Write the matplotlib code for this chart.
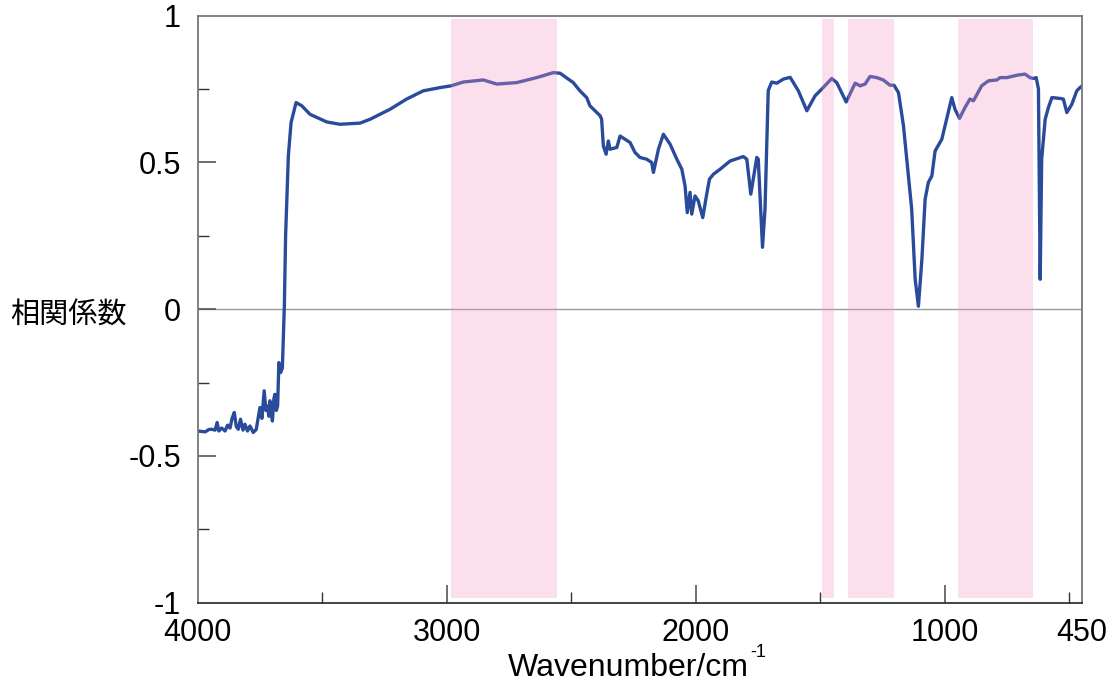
import matplotlib
matplotlib.use("Agg")
import matplotlib.pyplot as plt
from matplotlib.ticker import FixedLocator

# Wavenumber (cm-1) and correlation coefficient
wavenumber = [4000, 3970, 3955, 3944, 3930, 3922, 3915, 3904, 3890, 3880, 3870, 3862,
              3853, 3845, 3837, 3828, 3818, 3810, 3800, 3790, 3777, 3765, 3750, 3742,
              3733, 3726, 3720, 3714, 3710, 3704, 3700, 3694, 3690, 3684, 3679, 3674,
              3667, 3660, 3652, 3647, 3636, 3625, 3605,
              3582, 3549, 3482, 3429, 3348, 3308, 3228, 3161, 3094, 3027, 2983, 2933,
              2853, 2799, 2719, 2639, 2572, 2545, 2492, 2465, 2438, 2425, 2384, 2378,
              2371, 2360, 2351, 2344, 2317, 2304, 2264, 2244, 2224, 2197, 2177, 2170,
              2150, 2130, 2103, 2076, 2056, 2043, 2034, 2023, 2016, 2003, 1990, 1972,
              1956, 1945, 1929, 1902, 1862, 1809, 1795, 1779, 1755, 1749, 1732, 1722,
              1709, 1695, 1675, 1648, 1621, 1588, 1554, 1521, 1494, 1454, 1434, 1396,
              1360, 1340, 1320, 1300, 1273, 1247, 1220, 1204, 1186, 1166, 1146, 1133,
              1119, 1106, 1092, 1079, 1066, 1052, 1039, 1012, 999, 972, 959, 941,
              919, 899, 885, 852, 825, 791, 778, 751, 711, 678, 658, 644,
              633, 624, 617, 611, 597, 584, 570, 537, 524, 510, 490, 470,
              457, 450]
correlation = [-0.415, -0.418, -0.410, -0.409, -0.412, -0.386, -0.415, -0.405, -0.415, -0.395, -0.405, -0.372,
               -0.352, -0.400, -0.409, -0.375, -0.412, -0.392, -0.415, -0.398, -0.420, -0.410, -0.335, -0.372,
               -0.278, -0.345, -0.330, -0.365, -0.312, -0.350, -0.381, -0.305, -0.290, -0.345, -0.329, -0.182,
               -0.216, -0.200, 0.011, 0.250, 0.522, 0.636, 0.704,
               0.693, 0.664, 0.638, 0.630, 0.634, 0.647, 0.681, 0.716, 0.744, 0.755, 0.761, 0.774,
               0.781, 0.767, 0.772, 0.789, 0.806, 0.804, 0.772, 0.744, 0.721, 0.693, 0.659, 0.647,
               0.556, 0.528, 0.573, 0.545, 0.551, 0.590, 0.568, 0.534, 0.517, 0.511, 0.500, 0.466,
               0.545, 0.596, 0.562, 0.511, 0.477, 0.420, 0.329, 0.398, 0.324, 0.386, 0.369, 0.312,
               0.392, 0.443, 0.460, 0.477, 0.505, 0.520, 0.511, 0.392, 0.517, 0.511, 0.211, 0.341,
               0.745, 0.774, 0.770, 0.784, 0.790, 0.744, 0.676, 0.727, 0.750, 0.786, 0.772, 0.706,
               0.770, 0.761, 0.767, 0.793, 0.789, 0.781, 0.763, 0.763, 0.738, 0.625, 0.454, 0.341,
               0.102, 0.010, 0.170, 0.375, 0.432, 0.454, 0.539, 0.579, 0.625, 0.721, 0.681, 0.650,
               0.687, 0.716, 0.710, 0.761, 0.778, 0.781, 0.789, 0.789, 0.797, 0.801, 0.789, 0.786,
               0.789, 0.750, 0.102, 0.511, 0.647, 0.687, 0.721, 0.718, 0.716, 0.670, 0.698, 0.744,
               0.755, 0.760]

# Highlighted wavenumber bands (start, end)
band_starts = [2983, 1494, 1388, 945]
band_ends = [2558, 1446, 1205, 647]

x_ticks = [4000, 3000, 2000, 1000, 450]
x_tick_labels = ["4000", "3000", "2000", "1000", "450"]
x_minor = [3500, 2500, 1500, 500]
y_ticks = [-1, -0.5, 0, 0.5, 1]
y_tick_labels = ["-1", "-0.5", "0", "0.5", "1"]
y_minor = [-0.75, -0.25, 0.25, 0.75]

plt.rcParams['font.family'] = ['Liberation Sans', 'DejaVu Sans']

fig = plt.figure(figsize=(11.15, 6.88), dpi=100)
ax = fig.add_axes([0.1773, 0.124, 0.7929, 0.8532])

ax.axhline(0, color='#9a9a9a', lw=1.0, zorder=1)
ax.plot(wavenumber, correlation, color='#2a4b9b', lw=2.4, zorder=2,
        solid_joinstyle='round')
for s, e in zip(band_starts, band_ends):
    ax.axvspan(s, e, ymin=0.0085, ymax=0.994, color='#f598c6', alpha=0.3,
               lw=0, zorder=3)

ax.set_xlim(4000, 450)
ax.set_ylim(-1, 1)

ax.xaxis.set_major_locator(FixedLocator(x_ticks))
ax.set_xticklabels(x_tick_labels)
ax.xaxis.set_minor_locator(FixedLocator(x_minor))
ax.yaxis.set_major_locator(FixedLocator(y_ticks))
ax.set_yticklabels(y_tick_labels)
ax.yaxis.set_minor_locator(FixedLocator(y_minor))

ax.tick_params(axis='both', which='major', direction='in', length=13, width=1.2,
               color='#555555', labelsize=22)
ax.tick_params(axis='both', which='minor', direction='in', length=8, width=1.0,
               color='#333333')
ax.tick_params(axis='y', which='major', pad=12)
ax.tick_params(axis='x', which='major', pad=11)
for t in ax.xaxis.get_major_ticks():
    if t.get_loc() in (4000, 450):
        t.tick1line.set_visible(False)
for t in ax.yaxis.get_major_ticks():
    if t.get_loc() in (-1, 1):
        t.tick1line.set_visible(False)

for sp in ax.spines.values():
    sp.set_color('#777777')
    sp.set_linewidth(1.3)
ax.spines['bottom'].set_color('#333333')

# x-axis title with a small hyphen superscript
xt = fig.text(508 / 1115, 1 - 668 / 688, 'Wavenumber/cm', fontsize=23,
              ha='left', va='center')
ax.annotate('-1', xy=(1.0, 0.72), xycoords=xt, xytext=(1, 0),
            textcoords='offset points', fontsize=13, ha='left', va='bottom')
fig.text(10 / 1115, 1 - 316 / 688, '相関係数', fontsize=21,
         family=['Noto Sans CJK JP', 'DejaVu Sans'], ha='left', va='center')

fig.savefig('out.png', dpi=100)
